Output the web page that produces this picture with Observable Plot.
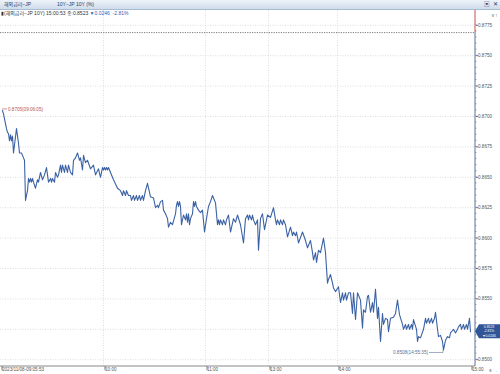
<!DOCTYPE html>
<html><head><meta charset="utf-8">
<script src="https://cdn.jsdelivr.net/npm/d3@7"></script>
<script src="https://cdn.jsdelivr.net/npm/@observablehq/plot@0.6"></script>
<style>
body{margin:0;width:500px;height:374px;overflow:hidden;background:#fff;font-family:"Liberation Sans","Noto Sans CJK KR",sans-serif;}
#wrap{position:relative;width:500px;height:374px;}
#bar{position:absolute;left:0;top:0;width:500px;height:10px;background:linear-gradient(#eef3f9,#cfdcea);border-bottom:1px solid #a7bbd2;box-sizing:border-box;font-size:5px;line-height:9px;color:#223d6e;white-space:nowrap;}
#bar span{position:absolute;top:0;}
#info{position:absolute;left:1px;top:10px;font-size:5px;line-height:7px;color:#333;white-space:nowrap;}
#info .dn{color:#2f5fb8;}
#chart{position:absolute;left:0;top:10px;}
</style></head>
<body><div id="wrap">
<div id="bar"><span style="left:4px">해외금리−JP</span><span style="left:57px">10Y−JP 10Y (%)</span><span style="left:484px;font-size:5.5px">▣</span><span style="left:493px;font-size:5.5px">✕</span></div>
<div id="chart"></div>
<div id="info"></div>
</div>
<script>
// data: sequence position (tick order) and yield
const seq = [
  2,3,4,6,7,8,9,10,11,12,
  13,16,18,19,21,23,24,25,27,28,
  29,30,31,32,33,35,37,38,40,42,
  44,46,48,50,51,52,54,55,57,58,
  60,61,62,64,65,67,68,70,72,73,
  75,77,79,80,82,83,85,87,90,93,
  95,98,100,102,103,104,105,106,107,108,
  110,113,117,120,122,123,125,126,128,130,
  131,133,134,136,137,139,140,142,143,145,
  147,150,153,155,157,158,160,162,163,165,
  167,168,170,172,175,176,177,178,179,180,
  181,183,185,186,187,188,189,190,192,193,
  194,195,196,198,200,202,204,206,208,210,
  212,213,215,217,218,219,220,222,223,225,
  226,228,230,233,235,237,240,243,245,247,
  248,249,251,252,253,255,257,258,260,262,
  264,267,270,273,275,276,277,279,280,282,
  283,285,287,290,292,293,295,296,298,302,
  305,307,310,312,313,315,316,318,320,323,
  325,327,328,330,332,333,335,338,340,342,
  343,345,346,348,350,352,353,355,357,360,
  362,363,365,367,368,370,372,373,375,377,
  378,380,382,383,385,387,388,390,393,395,
  397,399,402,403,405,406,408,409,411,412,
  413,416,417,418,420,423,425,426,428,429,
  431,432,434,435,437,438,440,442,443,445,
  447,449,450,452,453,455,457,458,460,461,
  463,464,466,467,469,470
];
const yld = [
  0.8705,0.8702,0.8698,0.8690,0.8687,0.8686,0.8680,0.8685,0.8680,0.8684,
  0.8670,0.8690,0.8678,0.8670,0.8670,0.8666,0.8664,0.8631,0.8639,0.8649,
  0.8646,0.8649,0.8646,0.8649,0.8646,0.8641,0.8648,0.8646,0.8654,0.8648,
  0.8652,0.8658,0.8646,0.8649,0.8646,0.8649,0.8646,0.8654,0.8650,0.8652,
  0.8660,0.8654,0.8660,0.8654,0.8660,0.8654,0.8660,0.8654,0.8652,0.8664,
  0.8666,0.8670,0.8664,0.8666,0.8656,0.8668,0.8662,0.8664,0.8657,0.8660,
  0.8652,0.8657,0.8650,0.8658,0.8656,0.8658,0.8656,0.8658,0.8656,0.8658,
  0.8654,0.8648,0.8641,0.8639,0.8635,0.8639,0.8635,0.8639,0.8635,0.8635,
  0.8631,0.8635,0.8631,0.8635,0.8631,0.8635,0.8631,0.8635,0.8631,0.8639,
  0.8645,0.8634,0.8633,0.8625,0.8627,0.8625,0.8630,0.8631,0.8623,0.8620,
  0.8616,0.8609,0.8613,0.8611,0.8620,0.8627,0.8630,0.8626,0.8630,0.8626,
  0.8611,0.8619,0.8615,0.8620,0.8613,0.8620,0.8611,0.8616,0.8620,0.8630,
  0.8626,0.8630,0.8626,0.8623,0.8621,0.8623,0.8605,0.8616,0.8626,0.8630,
  0.8635,0.8633,0.8629,0.8611,0.8615,0.8611,0.8615,0.8611,0.8615,0.8611,
  0.8615,0.8619,0.8605,0.8616,0.8613,0.8619,0.8611,0.8596,0.8616,0.8619,
  0.8615,0.8619,0.8615,0.8619,0.8615,0.8611,0.8615,0.8590,0.8616,0.8620,
  0.8607,0.8619,0.8617,0.8625,0.8615,0.8611,0.8615,0.8611,0.8615,0.8611,
  0.8615,0.8611,0.8601,0.8609,0.8602,0.8605,0.8602,0.8605,0.8596,0.8605,
  0.8598,0.8592,0.8598,0.8588,0.8582,0.8588,0.8580,0.8590,0.8588,0.8600,
  0.8588,0.8563,0.8566,0.8570,0.8563,0.8559,0.8556,0.8560,0.8547,0.8555,
  0.8549,0.8555,0.8549,0.8555,0.8555,0.8538,0.8555,0.8533,0.8555,0.8549,
  0.8526,0.8541,0.8539,0.8552,0.8553,0.8539,0.8547,0.8539,0.8558,0.8534,
  0.8543,0.8515,0.8538,0.8529,0.8534,0.8533,0.8523,0.8534,0.8535,0.8538,
  0.8549,0.8537,0.8529,0.8525,0.8529,0.8525,0.8529,0.8525,0.8529,0.8525,
  0.8533,0.8525,0.8515,0.8519,0.8518,0.8525,0.8534,0.8530,0.8534,0.8530,
  0.8534,0.8530,0.8534,0.8539,0.8525,0.8519,0.8520,0.8515,0.8508,0.8516,
  0.8519,0.8518,0.8522,0.8524,0.8525,0.8522,0.8525,0.8527,0.8529,0.8525,
  0.8529,0.8525,0.8529,0.8525,0.8534,0.8523
];
const xTickSeq = [0,103,205,268,337,470];
const xTickLabels = ["2023/11/08-09:05:53","10:00","11:00","13:00","14:00","15:00"];
const yTicks = [0.8500,0.8525,0.8550,0.8575,0.8600,0.8625,0.8650,0.8675,0.8700,0.8725,0.8750,0.8775];
const yMinorTicks = d3.range(0.8500, 0.8776, 0.0005);
const prevClose = 0.8769;
const lastPrice = 0.8523, change = "▼0.0246", changePct = "-2.81%";
const highLabel = "0.8705(09:06:05)", lowLabel = "0.8508(14:55:35)";
const seriesName = "(해외금리−JP 10Y)", lastTime = "15:00:53";

document.getElementById("info").innerHTML =
  `▮${seriesName} ${lastTime} 종:${lastPrice.toFixed(4)} <span class="dn">${change}&nbsp; ${changePct}</span>`;

const data = seq.map((s, i) => ({s, v: yld[i]}));
const lineColor = "#3b62a5";
const labelOf = new Map(xTickSeq.map((s, i) => [s, xTickLabels[i]]));
// axis labels hidden behind the last-price tag are not drawn
const yLabelTicks = yTicks.filter(t => Math.abs(t - lastPrice) > 0.0006);

function annotations(index, scales, values, dim) {
  const g = d3.create("svg:g").attr("text-anchor", "start");
  const x = scales.x, y = scales.y;
  const right = dim.width - dim.marginRight;
  const top = dim.marginTop, bottom = dim.height - dim.marginBottom;
  // right axis line: red above previous close, blue below
  const yp = y(prevClose);
  g.append("line").attr("x1", right).attr("x2", right).attr("y1", top).attr("y2", yp).attr("stroke", "#c0504d").attr("stroke-width", 1);
  g.append("line").attr("x1", right).attr("x2", right).attr("y1", yp).attr("y2", bottom).attr("stroke", "#5a7196").attr("stroke-width", 1);
  // minor ticks on the right axis
  for (const m of yMinorTicks) {
    g.append("line").attr("x1", right).attr("x2", right + 1.5).attr("y1", y(m)).attr("y2", y(m)).attr("stroke", "#5a7196").attr("stroke-width", 0.6);
  }
  // bottom axis line
  g.append("line").attr("x1", 0).attr("x2", right).attr("y1", bottom).attr("y2", bottom).attr("stroke", "#888").attr("stroke-width", 1);
  // high annotation
  let hi = data[0], lo = data[0];
  for (const d of data) { if (d.v > hi.v) hi = d; if (d.v < lo.v) lo = d; }
  const hx = x(hi.s), hy = y(hi.v);
  g.append("line").attr("x1", hx).attr("x2", hx + 5).attr("y1", hy - 1).attr("y2", hy - 1).attr("stroke", "#b5544c").attr("stroke-width", 0.6);
  g.append("text").attr("x", hx + 6).attr("y", hy - 1).attr("dy", "0.35em").attr("text-anchor", "start").attr("font-size", 4.6).attr("fill", "#b5544c").text(highLabel);
  // low annotation
  const lx = x(lo.s), ly = y(lo.v);
  g.append("path").attr("d", `M${lx - 14},${ly + 3}H${lx}V${ly}`).attr("fill", "none").attr("stroke", "#5a7196").attr("stroke-width", 0.6);
  g.append("text").attr("x", lx - 15).attr("y", ly + 3).attr("dy", "0.35em").attr("text-anchor", "end").attr("font-size", 4.6).attr("fill", "#5a7196").text(lowLabel);
  // last price tag
  const ty = y(lastPrice);
  g.append("path").attr("d", `M${right},${ty}L${right + 4},${ty - 7}H${dim.width}V${ty + 7}H${right + 4}Z`).attr("fill", "#2f5597");
  [lastPrice.toFixed(4), changePct, change].forEach((s, i) => {
    g.append("text").attr("x", right + 14).attr("y", ty - 4.4 + i * 4.4).attr("dy", "0.35em")
      .attr("font-size", 3.4).attr("fill", "#fff").attr("text-anchor", "middle").text(s);
  });
  return g.node();
}

const chart = Plot.plot({
  width: 500,
  height: 364,
  marginLeft: 0,
  marginRight: 25,
  marginTop: 0,
  marginBottom: 8,
  style: {fontFamily: "Liberation Sans, sans-serif", background: "transparent"},
  x: {domain: [0, 475], axis: null},
  y: {domain: [0.849441, 0.878717], axis: null},
  marks: [
    Plot.gridY(yTicks, {stroke: "#c8c8c8", strokeOpacity: 1, strokeDasharray: "1,1.5", strokeWidth: 0.6}),
    Plot.gridX(xTickSeq.slice(1, 5), {stroke: "#c8c8c8", strokeOpacity: 1, strokeDasharray: "1,1.5", strokeWidth: 0.6}),
    Plot.ruleY([prevClose], {stroke: "#555", strokeDasharray: "1.2,1.2", strokeWidth: 0.8}),
    Plot.line(data, {x: "s", y: "v", stroke: lineColor, strokeWidth: 1.1}),
    Plot.axisY(yLabelTicks, {anchor: "right", tickSize: 2, tickPadding: 0.5, fontSize: 4.6, fill: "#555", stroke: "#5a7196", tickFormat: d3.format(".4f")}),
    Plot.axisX(xTickSeq, {anchor: "bottom", tickSize: 4, tickPadding: -3, dx: 1.5, textAnchor: "start", fontSize: 4.6, fill: "#555", stroke: "#777", tickFormat: d => labelOf.get(d)}),
    annotations
  ]
});
document.getElementById("chart").appendChild(chart);
</script>
</body></html>
